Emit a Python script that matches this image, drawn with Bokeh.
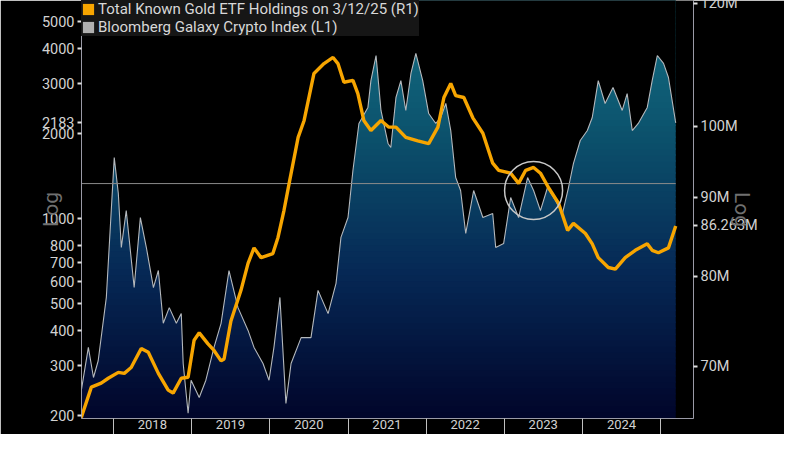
import numpy as np
import pandas as pd
from bokeh.plotting import figure
from bokeh.models import (Range1d, LogAxis, LogScale, FixedTicker, PrintfTickFormatter,
                          CustomJSTickFormatter, DatetimeTickFormatter, Legend, LegendItem)
from bokeh.embed import file_html
from bokeh.resources import INLINE

# ---------------- data ----------------
crypto_dates = ["2017-08-04","2017-09-06","2017-09-30","2017-10-22","2017-11-29","2017-12-22",
    "2018-01-05","2018-01-24","2018-02-07","2018-03-02","2018-04-08","2018-05-07","2018-06-04",
    "2018-07-07","2018-07-30","2018-08-22","2018-09-19","2018-10-22","2018-11-14","2018-11-23",
    "2018-12-16","2018-12-30","2019-02-06","2019-03-09","2019-04-16","2019-05-19","2019-06-25",
    "2019-08-06","2019-09-22","2019-10-20","2019-12-01","2019-12-29","2020-01-21","2020-02-18",
    "2020-03-17","2020-04-10","2020-05-27","2020-07-12","2020-08-14","2020-09-30","2020-11-06",
    "2020-11-29","2021-01-01","2021-01-24","2021-02-21","2021-04-04","2021-04-18","2021-05-12",
    "2021-06-04","2021-07-07","2021-07-20","2021-08-13","2021-09-05","2021-09-28","2021-10-22",
    "2021-11-14","2021-12-16","2022-01-13","2022-02-15","2022-03-10","2022-04-03","2022-04-26",
    "2022-05-19","2022-06-11","2022-07-05","2022-08-11","2022-09-23","2022-11-08","2022-11-22",
    "2022-12-29","2023-01-31","2023-03-09","2023-04-20","2023-05-18","2023-06-19","2023-07-22",
    "2023-08-28","2023-09-30","2023-10-28","2023-11-20","2023-12-22","2024-01-24","2024-02-16",
    "2024-03-15","2024-04-16","2024-05-23","2024-07-05","2024-07-28","2024-08-21","2024-09-18",
    "2024-10-30","2024-11-22","2024-12-16","2025-01-14","2025-02-06","2025-03-10","2025-03-12"]
crypto_values = [245,349,273,313,525,1067,
    1644,1226,789,1067,569,1008,789,569,654,425,483,425,460,306,204,267,
    232,267,349,425,654,483,401,349,306,267,
    349,525,221,306,378,378,556,460,589,857,
    1008,1480,2173,2477,3084,3785,2416,1845,1786,2686,3084,2416,3268,3848,3084,
    2356,2173,2281,2558,2051,1397,1257,885,1257,1008,1042,789,815,
    1187,1008,1397,1257,1067,1288,1158,1042,1288,1566,1891,
    2051,2281,3084,2558,2916,2416,2774,2051,2173,2477,3084,3785,
    3548,3162,2228,2183]

gold_dates = ["2017-08-04","2017-09-20","2017-11-05","2017-12-08","2018-01-24","2018-02-21",
    "2018-03-25","2018-05-11","2018-06-13","2018-07-30","2018-09-14","2018-10-07","2018-11-14",
    "2018-12-16","2019-01-13","2019-02-06","2019-03-19","2019-04-16","2019-05-19","2019-06-02",
    "2019-07-04","2019-08-20","2019-09-22","2019-10-20","2019-11-22","2020-01-16","2020-02-09",
    "2020-03-08","2020-04-01","2020-05-13","2020-06-10","2020-07-26","2020-09-11","2020-10-23",
    "2020-11-15","2020-12-13","2021-01-24","2021-02-16","2021-03-16","2021-04-18","2021-06-04",
    "2021-07-11","2021-08-13","2021-09-28","2021-11-23","2022-01-13","2022-02-25","2022-03-25",
    "2022-04-26","2022-05-19","2022-06-26","2022-08-07","2022-09-23","2022-11-08","2022-12-06",
    "2023-01-31","2023-03-09","2023-04-11","2023-05-18","2023-06-19","2023-07-27","2023-09-12",
    "2023-10-24","2023-11-20","2024-01-15","2024-02-16","2024-03-15","2024-05-01","2024-06-03",
    "2024-07-19","2024-09-04","2024-10-30","2024-11-22","2024-12-21","2025-02-06","2025-03-10",
    "2025-03-12"]
gold_values_m = [64.9,67.9,68.3,68.8,69.4,69.3,
    69.9,71.9,71.5,69.3,67.6,67.3,68.8,
    68.9,72.8,73.6,72.4,71.7,70.6,70.8,
    74.9,78.4,81.6,83.5,82.3,82.8,84.8,
    88.3,91.9,98.4,100.9,108.2,109.8,110.8,
    109.8,106.8,107.1,105.0,100.9,99.4,100.9,
    99.9,99.9,98.4,97.9,97.5,99.9,104.4,
    106.6,104.7,104.4,101.3,99.0,94.7,93.7,
    93.3,91.9,93.7,94.1,93.3,91.3,89.2,
    85.7,86.6,85.3,84.0,82.3,81.1,80.9,
    82.3,83.2,84.0,83.2,82.9,83.5,86.1,
    86.263]

left_ticks = [200, 300, 400, 500, 600, 700, 800, 1000, 2000, 3000, 4000, 5000, 6000]
right_ticks = [70, 80, 90, 100, 120]
year_mids = ["2018-07-02", "2019-07-02", "2020-07-02", "2021-07-02", "2022-07-02",
             "2023-07-02", "2024-07-02"]
year_bounds = ["2018-01-01", "2019-01-01", "2020-01-01", "2021-01-01", "2022-01-01",
               "2023-01-01", "2024-01-01", "2025-01-01"]
cursor_level = 1330
circle_date, circle_level = "2023-05-18", 1257
legend_gold = "Total Known Gold ETF Holdings on 3/12/25 (R1)"
legend_crypto = "Bloomberg Galaxy Crypto Index (L1)"

assert len(crypto_dates) == len(crypto_values)
assert len(gold_dates) == len(gold_values_m)

cx = pd.to_datetime(crypto_dates)
gx = pd.to_datetime(gold_dates)
cy = np.array(crypto_values, dtype=float)
gy = np.array(gold_values_m, dtype=float)

FONT = "Roboto"
BG = "#000000"
FRAME_C = "#9a9aa6"
GOLD_C = "#f7a500"
W, H = 784, 434
FL, FR, FT, FB = 81, 693, 0, 418          # frame edges in canvas pixels
X0, X1 = pd.Timestamp("2017-08-05"), pd.Timestamp("2025-06-03")
# vertical scales as in the reference: left 282 px / decade (1000 at y=218),
# right 1550 px / decade (100M at y=126)
YL0, YL1 = 10 ** (3 - (FB - 218) / 282), 10 ** (3 + (218 - FT) / 282)
YR0, YR1 = 100 * 10 ** ((126 - FB) / 1550), 100 * 10 ** ((126 - FT) / 1550)

p = figure(width=W, height=H, output_backend="svg", toolbar_location=None,
           x_axis_type="datetime", y_axis_type="log",
           x_range=Range1d(X0, X1), y_range=Range1d(YL0, YL1),
           min_border_left=FL, min_border_right=W - FR, min_border_top=FT,
           min_border_bottom=H - FB,
           background_fill_color=BG, border_fill_color=BG)
p.outline_line_color = None
p.grid.visible = False

p.extra_y_ranges = {"gold": Range1d(YR0, YR1)}
p.extra_y_scales = {"gold": LogScale()}

# ---- gradient area for crypto index: gradient bands, then mask above the curve
nb = 70
levels = np.logspace(np.log10(YL0), np.log10(YL1), nb + 1)
stops_t = [0.0, 0.35, 0.7, 1.0]  # 0 = bottom, 1 = top of frame
stops_c = [(1, 5, 42), (6, 40, 85), (12, 84, 110), (20, 112, 132)]
cols = []
for i in range(nb):
    t = (i + 0.5) / nb
    r = [np.interp(t, stops_t, [c[k] for c in stops_c]) for k in range(3)]
    cols.append("#%02x%02x%02x" % tuple(int(round(v)) for v in r))
p.quad(left=cx[0], right=cx[-1], bottom=levels[:-1], top=levels[1:] * 1.012,
       fill_color=cols, line_color=None)
p.varea(x=cx, y1=cy, y2=np.full(len(cy), YL1 * 1.1), fill_color=BG)
p.line(cx, cy, line_color="#b4b8bc", line_width=1.1)

# cursor line
p.line([cx[0], cx[-1]], [cursor_level, cursor_level], line_color="#8a8a8a", line_width=1)

# gold line
p.line(gx, gy, y_range_name="gold", line_color=GOLD_C, line_width=3.4)

# highlight circle
p.scatter([pd.Timestamp(circle_date)], [circle_level], marker="circle", size=58,
          fill_color=None, line_color="#c8c8c8", line_width=1.5)

# ---- axes
def style_axis(ax):
    ax.major_label_text_color = "#d2d2d2"
    ax.major_label_text_font = FONT
    ax.major_label_text_font_size = "14.5px"
    ax.major_tick_out = 4
    ax.major_tick_in = 0
    ax.minor_tick_out = 0
    ax.minor_tick_in = 0
    ax.major_tick_line_color = "#e0e0e0"
    ax.major_tick_line_width = 2
    ax.axis_line_color = FRAME_C
    ax.axis_line_width = 1
    ax.major_label_standoff = 3
    ax.axis_label_text_font = FONT
    ax.axis_label_text_font_size = "21px"
    ax.axis_label_text_font_style = "normal"
    ax.axis_label_text_color = "#707070"

last_crypto = crypto_values[-1]
last_gold = gold_values_m[-1]

ly = p.yaxis[0]
ly.ticker = FixedTicker(ticks=left_ticks + [last_crypto])
ly.formatter = PrintfTickFormatter(format="%d")
style_axis(ly)
ly.axis_label = "Log"
ly.axis_label_standoff = -24

ry = LogAxis(y_range_name="gold", ticker=FixedTicker(ticks=right_ticks + [last_gold]),
             formatter=CustomJSTickFormatter(
                 args=dict(last=last_gold),
                 code="return Math.abs(tick - last) < 1e-6 ? last.toFixed(3) + 'M' : tick.toFixed(0) + 'M'"))
style_axis(ry)
ry.axis_label = "Log"
ry.axis_label_standoff = -31
p.add_layout(ry, "right")

xa = p.xaxis[0]
xa.ticker = FixedTicker(ticks=[pd.Timestamp(d).value / 1e6 for d in year_mids],
                        minor_ticks=[pd.Timestamp(d).value / 1e6 for d in year_bounds])
xa.formatter = DatetimeTickFormatter(years="%Y", months="%Y", days="%Y", hours="%Y")
xa.axis_line_color = FRAME_C
xa.major_tick_out = 0
xa.major_tick_in = 0
xa.minor_tick_out = 16
xa.minor_tick_in = 0
xa.minor_tick_line_color = "#c0c0c0"
xa.minor_tick_line_width = 1
xa.major_label_text_font = FONT
xa.major_label_text_font_size = "13px"
xa.major_label_text_color = "#d2d2d2"
xa.major_label_standoff = -15

# legend swatches: one zero-size quad each, placed outside the visible range
off_x = X0 - pd.Timedelta(days=60)
rg = p.quad(left=[off_x], right=[off_x], top=[YL0], bottom=[YL0],
            fill_color=GOLD_C, line_color=None)
rc = p.quad(left=[off_x], right=[off_x], top=[YL0], bottom=[YL0],
            fill_color="#b0b0b0", line_color=None)
leg = Legend(items=[LegendItem(label=legend_gold, renderers=[rg]),
                    LegendItem(label=legend_crypto, renderers=[rc])],
             location="top_left", margin=0, padding=2, spacing=-2,
             label_height=14, glyph_height=14, glyph_width=14, label_standoff=3,
             label_text_font=FONT, label_text_font_size="15px", label_text_color="#d8d8d8",
             background_fill_color="#161616", background_fill_alpha=1,
             border_line_color=None)
p.add_layout(leg)

open("out.html", "w").write(file_html(p, INLINE))
